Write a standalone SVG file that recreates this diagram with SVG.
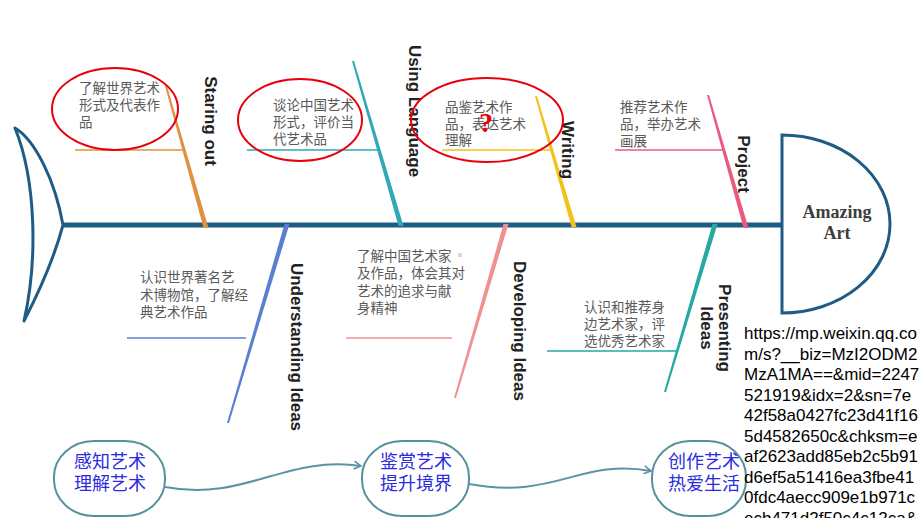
<svg xmlns="http://www.w3.org/2000/svg" width="920" height="518" viewBox="0 0 920 518">
<style>
.note{font-family:"Noto Sans CJK SC","Noto Sans",sans-serif;font-size:13.5px;fill:#5a5a5a}
.lbl{font-family:"Liberation Sans",Arial,sans-serif;font-weight:bold;font-size:17px;fill:#222;text-anchor:middle}
.ring{fill:none;stroke:#e8000b;stroke-width:2}
.sub{stroke-width:1.6;fill:none}
.node{fill:#fff;stroke:#55909f;stroke-width:2}
.ntxt{font-family:"Noto Sans CJK SC","Noto Sans",sans-serif;font-size:18px;fill:#2b2be0;text-anchor:middle}
.url{font-family:"Liberation Sans",Arial,sans-serif;font-size:17px;fill:#000}
.flow{fill:none;stroke:#5a93a5;stroke-width:2}
</style>
<defs>
<marker id="arr" markerWidth="10" markerHeight="10" refX="8" refY="5" orient="auto" markerUnits="userSpaceOnUse">
<path d="M1,1 L8,5 L1,9" fill="none" stroke="#5a93a5" stroke-width="1.6"/>
</marker>
</defs>
<rect width="920" height="518" fill="#fff"/>

<g id="tail">
<path d="M15,128 C35,140 55,180 63,225 C55,255 40,290 24,321 C38,260 36,180 15,128 Z" fill="#fff" stroke="#1f5c85" stroke-width="3" stroke-linejoin="round"/>
</g>
<g id="spine">
<line x1="63" y1="225" x2="783" y2="225" stroke="#1f5c85" stroke-width="5"/>
</g>
<g id="head">
<path d="M782,135 A108,89 0 0 1 782,313 Z" fill="#fff" stroke="#1f5c85" stroke-width="3"/>
<text x="837" y="218" font-family="Liberation Serif,Times New Roman,serif" font-weight="bold" font-size="18" fill="#3d3d3d" text-anchor="middle">Amazing</text>
<text x="837" y="239" font-family="Liberation Serif,Times New Roman,serif" font-weight="bold" font-size="18" fill="#3d3d3d" text-anchor="middle">Art</text>
</g>

<g id="bones">
<polygon points="165,86 167,86 208.5,228 203.5,228" fill="#e0913f"/>
<polygon points="352,61 354,61 403.5,226 398.5,226" fill="#30a8b8"/>
<polygon points="535,96 537,96 576.5,227 571.5,227" fill="#f2c21a"/>
<polygon points="707,95 709,95 748.5,228 743.5,228" fill="#ea5a80"/>
<polygon points="284.5,224 289.5,224 229,423 227,423" fill="#5a7fd0"/>
<polygon points="503.5,224 508.5,224 456,398 454,398" fill="#f09090"/>
<polygon points="712.5,224 717.5,224 666,392 664,392" fill="#24aaa0"/>
<line class="sub" x1="75" y1="150" x2="184" y2="150" stroke="#e0913f"/>
<line class="sub" x1="247" y1="150" x2="379" y2="150" stroke="#30a8b8"/>
<line class="sub" x1="442" y1="150" x2="552" y2="150" stroke="#f2c21a"/>
<line class="sub" x1="615" y1="150" x2="722" y2="150" stroke="#ea5a80"/>
<line class="sub" x1="127" y1="338" x2="246" y2="338" stroke="#5a7fd0"/>
<line class="sub" x1="346" y1="338" x2="452" y2="338" stroke="#f09090"/>
<line class="sub" x1="547" y1="351" x2="677" y2="351" stroke="#24aaa0"/>
</g>

<g id="b1">
<text class="note" x="79" y="93">了解世界艺术</text>
<text class="note" x="79" y="110">形式及代表作</text>
<text class="note" x="79" y="127">品</text>
<text class="lbl" transform="translate(211,121) rotate(90)" dy="0.35em">Staring out</text>
<ellipse class="ring" cx="115" cy="109" rx="63" ry="41"/>
</g>
<g id="b2">
<text class="note" x="273" y="110">谈论中国艺术</text>
<text class="note" x="273" y="127">形式，评价当</text>
<text class="note" x="273" y="144">代艺术品</text>
<text class="lbl" transform="translate(415,111) rotate(90)" dy="0.35em" font-size="16">Using Language</text>
<ellipse class="ring" cx="300" cy="120" rx="62" ry="41"/>
</g>
<g id="b3">
<text class="note" x="445" y="112">品鉴艺术作</text>
<text class="note" x="445" y="129">品，表达艺术</text>
<text class="note" x="445" y="145">理解</text>
<text class="lbl" transform="translate(568,150) rotate(90)" dy="0.35em">Writing</text>
<ellipse class="ring" cx="487" cy="120" rx="76" ry="42"/>
<text x="486" y="132" font-family="Liberation Serif,serif" font-weight="bold" font-size="28" fill="#e8000b" text-anchor="middle">?</text>
</g>
<g id="b4">
<text class="note" x="620" y="112">推荐艺术作</text>
<text class="note" x="620" y="129">品，举办艺术</text>
<text class="note" x="620" y="146">画展</text>
<text class="lbl" transform="translate(744,164) rotate(90)" dy="0.35em">Project</text>
</g>
<g id="b5">
<text class="note" x="140" y="282">认识世界著名艺</text>
<text class="note" x="140" y="300">术博物馆，了解经</text>
<text class="note" x="140" y="317">典艺术作品</text>
<text class="lbl" transform="translate(297,347) rotate(90)" dy="0.35em" font-size="16">Understanding Ideas</text>
</g>
<g id="b6">
<text class="note" x="357" y="261">了解中国艺术家</text>
<text class="note" x="357" y="278">及作品，体会其对</text>
<text class="note" x="357" y="296">艺术的追求与献</text>
<text class="note" x="357" y="313">身精神</text>
<rect x="458" y="253" width="4" height="4" fill="#d8d8d8"/>
<text class="lbl" transform="translate(520,331) rotate(90)" dy="0.35em">Developing Ideas</text>
</g>
<g id="b7">
<text class="note" x="584" y="312">认识和推荐身</text>
<text class="note" x="584" y="329">边艺术家，评</text>
<text class="note" x="584" y="346">选优秀艺术家</text>
<text class="lbl" transform="translate(725,328) rotate(90)" dy="0.35em" font-size="18">Presenting</text>
<text class="lbl" transform="translate(707,328) rotate(90)" dy="0.35em" font-size="18">Ideas</text>
</g>

<g id="flow-links">
<path class="flow" d="M165,487 C245,502 285,455 361,466" marker-end="url(#arr)"/>
<path class="flow" d="M469,484 C555,500 580,458 651,471" marker-end="url(#arr)"/>
</g>
<g id="n1">
<rect class="node" x="54" y="441" width="111" height="75" rx="40" ry="36"/>
<text class="ntxt" x="110" y="468">感知艺术</text>
<text class="ntxt" x="110" y="490">理解艺术</text>
</g>
<g id="n2">
<rect class="node" x="362" y="441" width="107" height="75" rx="40" ry="36"/>
<text class="ntxt" x="416" y="468">鉴赏艺术</text>
<text class="ntxt" x="416" y="490">提升境界</text>
</g>
<g id="n3">
<rect class="node" x="652" y="441" width="94" height="75" rx="38" ry="36"/>
<text class="ntxt" x="704" y="468">创作艺术</text>
<text class="ntxt" x="704" y="490">热爱生活</text>
</g>

<g id="url">
<text class="url" x="744" y="339">https://mp.weixin.qq.co</text>
<text class="url" x="744" y="359.5">m/s?__biz=MzI2ODM2</text>
<text class="url" x="744" y="380">MzA1MA==&amp;mid=2247</text>
<text class="url" x="744" y="400.5">521919&amp;idx=2&amp;sn=7e</text>
<text class="url" x="744" y="421">42f58a0427fc23d41f16</text>
<text class="url" x="744" y="441.5">5d4582650c&amp;chksm=e</text>
<text class="url" x="744" y="462">af2623add85eb2c5b91</text>
<text class="url" x="744" y="482.5">d6ef5a51416ea3fbe41</text>
<text class="url" x="744" y="503">0fdc4aecc909e1b971c</text>
<text class="url" x="744" y="523.5">ecb471d2f50c4c12ca&amp;</text>
</g>
</svg>
